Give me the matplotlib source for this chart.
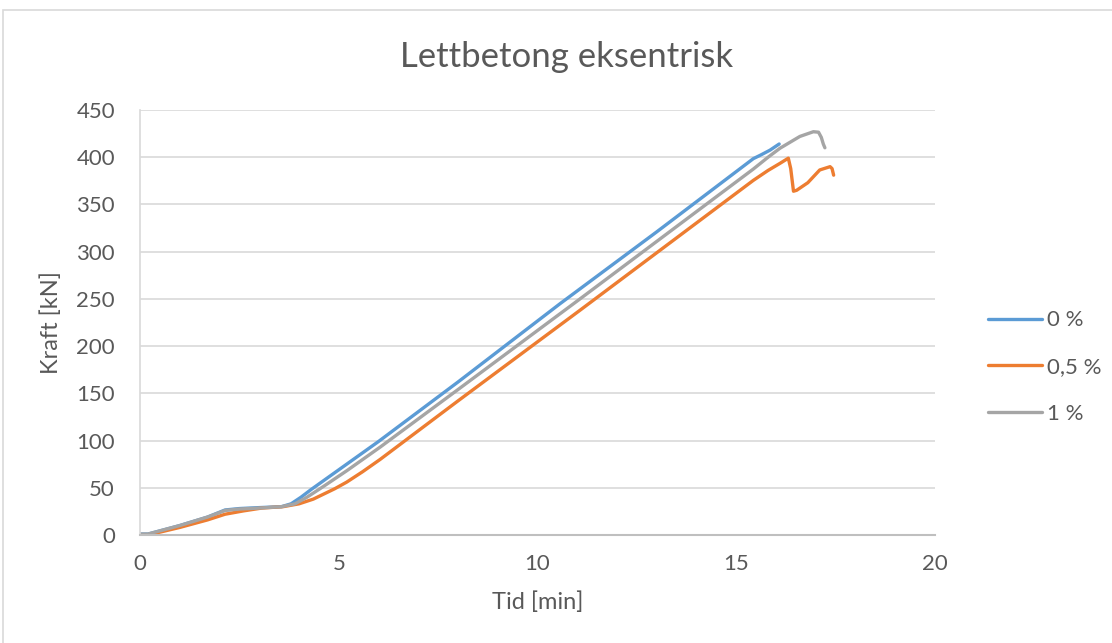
import matplotlib.pyplot as plt
from matplotlib.patches import Rectangle

plt.rcParams['font.family'] = ['Lato', 'DejaVu Sans']

# Tid [min] / Kraft [kN]
t_0 = [0.0, 0.2, 1.0, 1.7, 2.14, 2.5, 3.0, 3.56, 3.8, 4.05, 4.3, 4.8, 6.0,
       8.0, 10.57, 13.0, 15.43, 15.6, 15.85, 16.08]
f_0 = [1, 1, 10, 19, 26.5, 28, 29, 30, 33, 40, 48, 63, 99,
       162, 245, 321, 398.5, 402, 407.5, 414]

t_05 = [0.0, 0.2, 1.0, 1.7, 2.14, 2.6, 3.06, 3.6, 4.0, 4.36, 4.9, 5.2, 5.6,
        6.04, 8.0, 11.07, 15.43, 15.8, 16.1, 16.31, 16.37, 16.44,
        16.52, 16.8, 17.1, 17.36, 17.41, 17.45]
f_05 = [0, 0, 8, 16, 22, 25.5, 28.5, 30, 33, 38, 49, 56, 67,
        80, 142, 238, 375.5, 386, 393.5, 399, 388, 364,
        365, 373, 386.5, 390, 388, 381]

t_1 = [0.0, 0.2, 1.0, 1.7, 2.14, 2.5, 3.0, 3.56, 3.9, 4.2, 4.6, 5.2, 6.04,
       8.0, 11.07, 15.43, 15.8, 16.1, 16.6, 16.94, 17.07, 17.14,
       17.19, 17.23]
f_1 = [1, 1, 10, 19, 26, 27.5, 28.5, 30, 33, 40, 51, 68, 93,
       154, 250, 387.5, 400, 409.5, 422, 427, 426.5, 421,
       414, 410]

series = [(t_0, f_0, '0 %', '#5b9bd5'),
          (t_05, f_05, '0,5 %', '#ed7d31'),
          (t_1, f_1, '1 %', '#a5a5a5')]

fig = plt.figure(figsize=(11.12, 6.43), dpi=100)
fig.patches.append(Rectangle((3 / 1112, -0.1), 1.2, 1 - 10 / 643 + 0.1,
                             transform=fig.transFigure, fill=False,
                             edgecolor='#d9d9d9', linewidth=1.2))
ax = fig.add_axes([140 / 1112, 108 / 643, 795 / 1112, 425 / 643])

for t, f, lab, col in series:
    ax.plot(t, f, color=col, linewidth=2.4, label=lab,
            solid_capstyle='round', solid_joinstyle='round')

ax.set_xlim(0, 20)
ax.set_ylim(0, 450)
ax.set_xticks(range(0, 21, 5))
ax.set_yticks(range(0, 451, 50))
ax.grid(axis='y', color='#d9d9d9', linewidth=1.2)
ax.set_axisbelow(True)
for s in ['top', 'right']:
    ax.spines[s].set_visible(False)
ax.spines['left'].set_color('#d9d9d9')
ax.spines['bottom'].set_color('#bfbfbf')
ax.spines['left'].set_linewidth(1.2)
ax.spines['bottom'].set_linewidth(1.5)
ax.tick_params(length=0, labelsize=16, labelcolor='#595959')
ax.tick_params(axis='x', pad=14)
ax.tick_params(axis='y', pad=18)

ax.set_xlabel('Tid [min]', fontsize=17, color='#595959', labelpad=12)
ax.set_ylabel('Kraft [kN]', fontsize=17, color='#595959', labelpad=10)
fig.text(567 / 1112, 1 - 57 / 643, 'Lettbetong eksentrisk', ha='center',
         va='center', fontsize=25, color='#595959')

fig.legend(loc='center left', bbox_to_anchor=(968 / 1112, 1 - 367 / 643),
           frameon=False, fontsize=16, labelcolor='#595959',
           handlelength=2.45, handletextpad=0.2, labelspacing=1.2)

fig.savefig('out.png', dpi=100)
